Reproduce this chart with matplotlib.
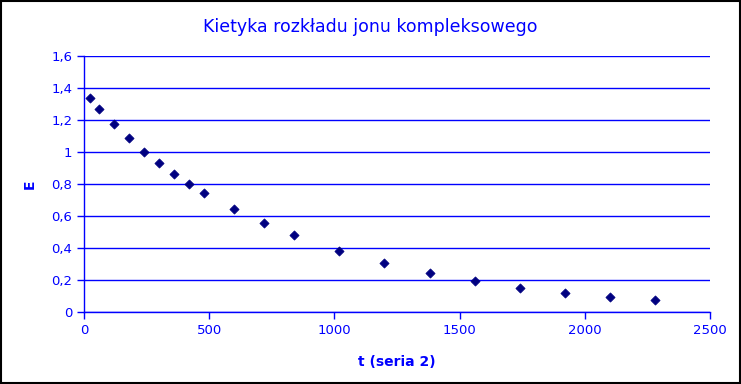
import matplotlib
matplotlib.use("Agg")
import matplotlib.pyplot as plt
from matplotlib.patches import Rectangle

t = [24, 60, 120, 180, 240, 300, 360, 420, 480, 600, 720, 840, 1020, 1200, 1380, 1560, 1740, 1920, 2100, 2280]
E = [1.34, 1.27, 1.175, 1.085, 1.00, 0.93, 0.86, 0.80, 0.745, 0.645, 0.555, 0.48, 0.38, 0.305, 0.245, 0.195, 0.15, 0.12, 0.095, 0.075]
xticks = [0, 500, 1000, 1500, 2000, 2500]
yticks = [0, 0.2, 0.4, 0.6, 0.8, 1.0, 1.2, 1.4, 1.6]
yticklabels = ["0", "0,2", "0,4", "0,6", "0,8", "1", "1,2", "1,4", "1,6"]

blue = "#0000ff"
fig = plt.figure(figsize=(7.41, 3.84), dpi=100)
ax = fig.add_axes([84/741, 72/384, 626/741, 256/384])
ax.scatter(t, E, marker="D", s=22, color="#000080", zorder=3, edgecolors="#000080", linewidths=0.5)
ax.set_xlim(0, 2500)
ax.set_ylim(0, 1.6)
ax.set_xticks(xticks)
ax.set_yticks(yticks)
ax.set_yticklabels(yticklabels)
ax.grid(axis="y", color=blue, linewidth=1)
ax.set_axisbelow(True)
for s in ["top", "right"]:
    ax.spines[s].set_visible(False)
for s in ["left", "bottom"]:
    ax.spines[s].set_color(blue)
    ax.spines[s].set_linewidth(1)
ax.tick_params(colors=blue, labelcolor=blue, labelsize=9.5, length=5, width=1, direction="out")
ax.set_xlabel("t (seria 2)", color=blue, fontsize=10, fontweight="bold")
ax.set_ylabel("E", color=blue, fontsize=10, fontweight="bold")
ax.xaxis.set_label_coords(0.5, (312 - 355) / 256)
ax.yaxis.set_label_coords((37 - 84) / 626, 0.5)
fig.text(370/741, 1 - 27/384, "Kietyka rozkładu jonu kompleksowego", color=blue, fontsize=12.5,
         ha="center", va="center")
fig.patches.append(Rectangle((0.001, 0.002), 0.998, 0.996, transform=fig.transFigure,
                             fill=False, edgecolor="black", linewidth=1.5))
fig.savefig("out.png", dpi=100)
